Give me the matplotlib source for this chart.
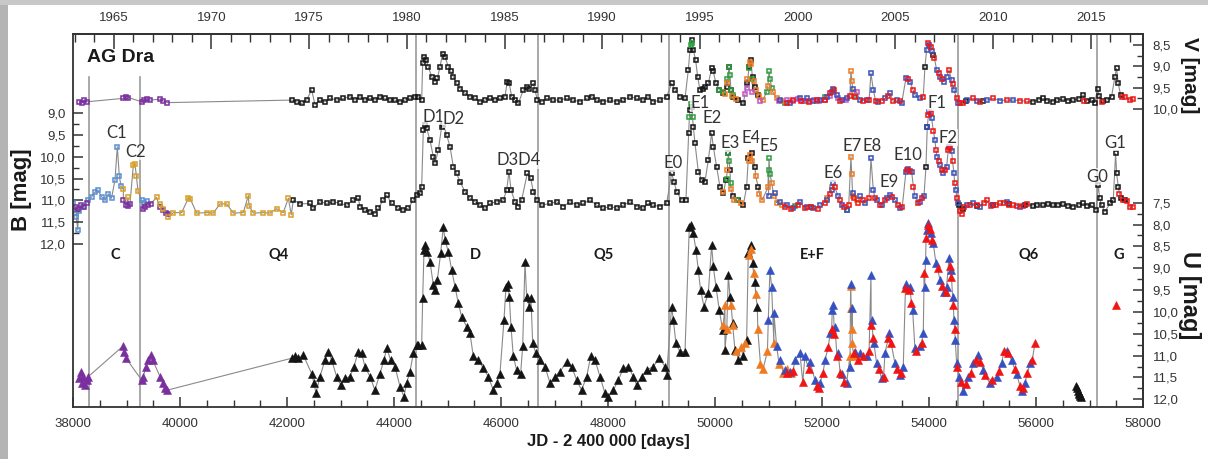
import matplotlib.pyplot as plt
from matplotlib.ticker import FixedLocator, FuncFormatter
from matplotlib.patches import Rectangle
import matplotlib.transforms as mtransforms

plt.rcParams['font.family'] = ['Liberation Sans', 'DejaVu Sans']

# ---------------- V band (JD-2400000, mag) ----------------
v_purple = [(38118, 9.83), (38162, 9.87), (38206, 9.79), (38255, 9.83), (38941, 9.75), (38991, 9.71),
            (39034, 9.73), (39283, 9.83), (39327, 9.79), (39377, 9.77), (39439, 9.79), (39626, 9.77),
            (39688, 9.81), (39751, 9.85)]
v_black = [(42087, 9.79), (42180, 9.83), (42274, 9.87), (42367, 9.79), (42461, 9.55), (42523, 9.90),
           (42617, 9.79), (42710, 9.83), (42803, 9.75), (42928, 9.79), (43052, 9.75), (43177, 9.71),
           (43270, 9.79), (43364, 9.71), (43457, 9.79), (43551, 9.75), (43644, 9.79), (43738, 9.71),
           (43831, 9.75), (43925, 9.79), (44018, 9.79), (44112, 9.83), (44205, 9.79), (44298, 9.75),
           (44392, 9.71), (44455, 9.71), (44517, 9.79), (44536, 8.93), (44561, 8.77), (44598, 8.85),
           (44642, 9.01), (44704, 9.24), (44766, 9.36), (44810, 9.28), (44860, 9.01), (44909, 8.70),
           (44953, 8.77), (45015, 9.01), (45059, 9.12), (45109, 9.24), (45171, 9.40), (45233, 9.52),
           (45327, 9.63), (45420, 9.71), (45514, 9.75), (45607, 9.83), (45701, 9.79), (45794, 9.75),
           (45888, 9.79), (45981, 9.75), (46074, 9.71), (46118, 9.36), (46155, 9.40), (46199, 9.71),
           (46261, 9.79), (46324, 9.87), (46417, 9.55), (46479, 9.48), (46529, 9.52), (46604, 9.40),
           (46635, 9.55), (46679, 9.79), (46760, 9.83), (46853, 9.75), (46978, 9.79), (47102, 9.79),
           (47227, 9.75), (47352, 9.79), (47476, 9.83), (47601, 9.75), (47694, 9.71), (47788, 9.79),
           (47912, 9.83), (48037, 9.79), (48162, 9.83), (48286, 9.79), (48411, 9.71), (48535, 9.75),
           (48660, 9.79), (48753, 9.71), (48847, 9.83), (48971, 9.79), (49096, 9.71), (49191, 9.40),
           (49252, 9.55), (49345, 9.71), (49439, 9.75), (49501, 9.09), (49532, 8.62), (49563, 8.38),
           (49594, 8.62), (49638, 8.85), (49675, 9.24), (49719, 9.55), (49769, 9.52), (49812, 9.48),
           (49875, 9.40), (49937, 9.05), (49968, 9.12), (50018, 9.40), (50080, 9.55), (50155, 9.63),
           (50217, 9.48), (50261, 9.01), (50298, 9.55), (50342, 9.71), (50435, 9.79), (50529, 9.87),
           (50591, 9.40), (50635, 9.01), (50666, 8.85), (50703, 9.24), (50747, 9.48), (50809, 9.67),
           (53924, 9.01), (54080, 8.73), (54700, 9.80), (55000, 9.80), (55949, 9.83), (56050, 9.78),
           (56136, 9.75), (56200, 9.80), (56323, 9.83), (56400, 9.78), (56510, 9.77), (56600, 9.80),
           (56697, 9.79), (56800, 9.76), (56884, 9.67), (56950, 9.80), (57039, 9.79), (57100, 9.85),
           (57151, 9.52), (57180, 9.70), (57250, 9.82), (57320, 9.79), (57413, 9.71), (57475, 9.24),
           (57506, 9.05), (57538, 9.40), (57581, 9.67)]
v_green = [(49545, 8.50), (49570, 8.45), (50080, 9.55), (50155, 9.60), (50217, 9.30), (50261, 9.01),
           (50280, 9.20), (50298, 9.55), (50342, 9.68), (50640, 9.05), (50700, 9.30), (50965, 9.60),
           (51009, 9.12), (51030, 9.30), (51058, 9.50), (51300, 9.85), (51700, 9.80), (51900, 9.82),
           (52050, 9.72), (52620, 9.70)]
v_orange = [(50180, 9.65), (50230, 9.40), (50320, 9.70), (50400, 9.76), (50600, 9.30), (50650, 8.90),
            (50680, 8.95), (50720, 9.35), (50760, 9.55), (50830, 9.70), (50900, 9.78), (50990, 9.45),
            (51080, 9.60), (51150, 9.75), (51250, 9.80), (52541, 9.12), (52560, 9.35), (52600, 9.60)]
v_magenta = [(50560, 9.65), (50600, 9.50), (50700, 9.60), (50850, 9.80), (51200, 9.82), (51350, 9.78),
             (51450, 9.80), (51550, 9.77), (51650, 9.82), (51750, 9.80), (51850, 9.78), (51950, 9.80),
             (52050, 9.78), (52150, 9.70), (52300, 9.75), (52450, 9.78), (52650, 9.60)]
v_blue = [(51214, 9.79), (51400, 9.85), (51588, 9.75), (51713, 9.74), (51837, 9.81), (51962, 9.78),
          (52086, 9.71), (52180, 9.59), (52211, 9.52), (52273, 9.67), (52367, 9.79), (52460, 9.75),
          (52572, 9.52), (52709, 9.79), (52834, 9.79), (52915, 9.16), (52959, 9.55), (53052, 9.83),
          (53177, 9.75), (53270, 9.63), (53395, 9.79), (53488, 9.87), (53569, 9.28), (53644, 9.36),
          (53737, 9.67), (53831, 9.75), (53955, 8.62), (54000, 8.50), (54060, 8.65), (54142, 9.08),
          (54205, 9.24), (54279, 9.36), (54329, 9.24), (54423, 9.32), (54466, 9.55), (54550, 9.85),
          (54703, 9.79), (54900, 9.81), (55077, 9.79), (55326, 9.80), (55575, 9.79)]
v_red = [(51339, 9.87), (51463, 9.79), (51600, 9.80), (51750, 9.83), (51900, 9.79), (52050, 9.78),
         (52150, 9.62), (52230, 9.55), (52330, 9.80), (52520, 9.70), (52616, 9.71), (52760, 9.80),
         (52880, 9.78), (53000, 9.80), (53120, 9.80), (53230, 9.70), (53330, 9.82), (53450, 9.80),
         (53600, 9.30), (53700, 9.55), (53893, 9.71), (53987, 8.46), (54030, 8.54), (54100, 8.80),
         (54180, 9.15), (54250, 9.30), (54373, 9.08), (54440, 9.42), (54516, 9.75), (54578, 9.87),
         (54630, 9.85), (54828, 9.75), (54952, 9.83), (55201, 9.75), (55451, 9.79), (55700, 9.80),
         (55824, 9.82), (56900, 9.80), (57226, 9.83), (57600, 9.72), (57662, 9.71), (57756, 9.79),
         (57818, 9.77)]

# ---------------- B band ----------------
b_lightblue = [(38006, 11.07), (38030, 11.29), (38060, 11.37), (38090, 11.68), (38120, 11.25),
               (38180, 11.15), (38286, 10.98), (38350, 10.92), (38411, 10.81), (38470, 10.77),
               (38536, 10.92), (38600, 11.00), (38660, 10.85), (38720, 10.95), (38785, 10.53),
               (38828, 9.77), (38866, 10.45), (38900, 10.68), (39283, 11.00), (39330, 11.05),
               (39380, 11.02)]
b_purple = [(38060, 11.15), (38100, 11.20), (38150, 11.10), (38200, 11.15), (38260, 11.05),
            (38941, 11.00), (38990, 11.10), (39030, 11.12), (39065, 11.08), (39300, 11.20),
            (39350, 11.15), (39400, 11.10), (39450, 11.08), (39620, 11.15), (39680, 11.22),
            (39740, 11.28), (39780, 11.30)]
b_gold = [(38941, 10.74), (39028, 10.93), (39128, 10.19), (39159, 10.17), (39185, 10.45),
          (39216, 10.79), (39564, 10.93), (39626, 11.08), (39690, 11.19), (39782, 11.38),
          (39875, 11.28), (40031, 11.28), (40155, 10.95), (40190, 10.96), (40311, 11.29),
          (40498, 11.28), (40623, 11.29), (40747, 11.08), (40872, 11.08), (40996, 11.29),
          (41183, 11.28), (41277, 10.89), (41290, 11.12), (41370, 11.29), (41557, 11.28),
          (41682, 11.29), (41807, 11.19), (41931, 11.28), (42025, 10.95), (42080, 11.33)]
b_black = [(42118, 10.99), (42243, 11.08), (42430, 11.07), (42492, 11.18), (42617, 11.03),
           (42741, 11.07), (42866, 11.03), (42990, 11.07), (43115, 11.11), (43239, 10.99),
           (43333, 10.95), (43364, 11.14), (43457, 11.22), (43551, 11.26), (43644, 11.30),
           (43707, 11.18), (43800, 10.99), (43863, 10.88), (43956, 11.07), (44080, 11.18),
           (44174, 11.22), (44267, 11.18), (44361, 10.99), (44423, 10.88), (44486, 10.84),
           (44517, 10.69), (44548, 9.39), (44579, 9.27), (44610, 9.35), (44673, 9.62), (44735, 10.00),
           (44766, 10.15), (44828, 9.85), (44891, 9.31), (44922, 9.27), (44984, 9.50), (45047, 9.77),
           (45109, 10.23), (45171, 10.38), (45233, 10.57), (45327, 10.80), (45420, 10.95),
           (45514, 11.03), (45607, 11.11), (45701, 11.18), (45794, 11.07), (45919, 11.03),
           (46043, 10.99), (46106, 10.76), (46149, 10.34), (46187, 10.76), (46261, 11.03),
           (46324, 11.14), (46386, 10.99), (46492, 10.38), (46554, 10.49), (46604, 10.80),
           (46666, 10.99), (46760, 11.11), (46916, 11.07), (47040, 11.03), (47165, 11.14),
           (47289, 11.03), (47414, 11.11), (47539, 11.07), (47663, 10.99), (47788, 11.11),
           (47912, 11.18), (48037, 11.14), (48162, 11.18), (48286, 11.11), (48411, 11.03),
           (48535, 11.14), (48660, 11.18), (48753, 11.07), (48847, 11.11), (48971, 11.14),
           (49096, 11.07), (49189, 10.38), (49233, 10.57), (49283, 10.80), (49376, 10.99),
           (49457, 10.99), (49507, 9.46), (49532, 8.93), (49563, 8.85), (49594, 9.31), (49626, 9.69),
           (49688, 10.34), (49750, 10.53), (49812, 10.57), (49875, 10.08), (49937, 9.46),
           (49968, 9.77), (50031, 10.23), (50093, 10.69), (50155, 10.84), (50205, 10.53),
           (50249, 9.92), (50280, 10.30), (50342, 10.91), (50435, 10.99), (50529, 11.11),
           (50591, 10.69), (50622, 10.04), (50685, 9.92), (50747, 10.23), (50809, 10.69),
           (53943, 10.23), (53968, 9.31), (54560, 11.10), (54640, 11.20), (54900, 11.12),
           (55200, 11.10), (55500, 11.08), (55800, 11.10), (55949, 11.13), (56020, 11.10),
           (56136, 11.11), (56220, 11.08), (56323, 11.11), (56420, 11.10), (56510, 11.08),
           (56600, 11.12), (56697, 11.14), (56800, 11.10), (56884, 11.07), (56960, 11.12),
           (57039, 11.11), (57120, 11.22), (57164, 10.65), (57190, 10.95), (57226, 11.11),
           (57288, 11.26), (57382, 11.07), (57444, 10.99), (57488, 9.92), (57507, 10.38),
           (57538, 10.69), (57581, 10.95), (57662, 10.99)]
b_green = [(49520, 9.10), (49545, 8.80), (49580, 9.10), (50215, 10.50), (50249, 9.92), (50265, 10.10),
           (50290, 10.60), (50420, 11.00), (51000, 10.30), (51008, 10.04), (51030, 10.40),
           (51500, 11.12), (51800, 11.15), (52460, 11.22)]
b_orange = [(50150, 10.80), (50230, 10.30), (50300, 10.75), (50360, 11.00), (50480, 11.05),
            (50630, 10.10), (50660, 9.95), (50700, 10.10), (50760, 10.45), (50830, 10.85),
            (50880, 11.00), (50990, 10.70), (51060, 10.60), (51100, 10.90), (51150, 11.05),
            (51250, 11.10), (52100, 10.95), (52190, 10.70), (52541, 10.00), (52555, 10.40),
            (52580, 10.90), (52650, 11.00)]
b_blue = [(51000, 10.90), (51121, 10.84), (51214, 11.03), (51339, 11.11), (51463, 11.18),
          (51588, 11.03), (51713, 11.14), (51837, 11.18), (51962, 11.11), (52086, 10.99),
          (52180, 10.76), (52211, 10.61), (52304, 10.91), (52367, 11.11), (52460, 11.22),
          (52572, 10.84), (52709, 10.91), (52803, 11.07), (52915, 10.04), (52959, 10.76),
          (53021, 10.99), (53114, 11.11), (53208, 10.95), (53270, 10.88), (53364, 10.99),
          (53457, 11.18), (53569, 10.34), (53613, 10.27), (53675, 10.34), (53737, 10.91),
          (53831, 11.03), (53906, 10.91), (53968, 9.31), (54005, 8.97), (54049, 9.12),
          (54111, 9.62), (54155, 10.00), (54205, 10.19), (54267, 10.38), (54329, 10.23),
          (54379, 9.77), (54423, 9.88), (54466, 10.38), (54504, 10.76), (54547, 11.07),
          (54703, 11.11), (54828, 11.07), (54952, 11.14), (55201, 11.11), (55451, 11.03),
          (55700, 11.14)]
b_red = [(51300, 11.15), (51420, 11.20), (51550, 11.10), (51680, 11.18), (51800, 11.14),
         (51920, 11.20), (52050, 11.05), (52150, 10.85), (52240, 10.70), (52330, 11.00),
         (52420, 11.15), (52500, 11.10), (52600, 10.95), (52680, 11.05), (52760, 10.98),
         (52880, 10.95), (52990, 10.95), (53080, 11.10), (53180, 11.00), (53300, 10.92),
         (53420, 11.10), (53500, 11.15), (53590, 10.30), (53650, 10.32), (53710, 10.70),
         (53790, 11.05), (53870, 10.95), (53990, 9.05), (54030, 9.00), (54080, 9.40),
         (54130, 9.85), (54180, 10.10), (54240, 10.30), (54300, 10.30), (54360, 9.85),
         (54400, 9.80), (54440, 10.10), (54480, 10.60), (54520, 10.95), (54580, 11.25),
         (54610, 11.30), (54660, 11.15), (54760, 11.10), (54890, 11.10), (55020, 11.05),
         (55077, 10.99), (55150, 11.12), (55260, 11.10), (55326, 11.07), (55400, 11.05),
         (55500, 11.10), (55575, 11.11), (55650, 11.12), (55760, 11.12), (55824, 11.08),
         (57560, 10.85), (57620, 10.98), (57700, 11.02), (57756, 11.16), (57818, 11.14)]

# ---------------- U band ----------------
u_purple = [(38118, 11.52), (38143, 11.37), (38168, 11.63), (38193, 11.48), (38224, 11.67),
            (38255, 11.56), (38286, 11.48), (38928, 10.79), (38953, 10.91), (38991, 11.06),
            (39283, 11.56), (39314, 11.48), (39364, 11.25), (39408, 11.10), (39452, 10.99),
            (39489, 11.10), (39626, 11.48), (39676, 11.63), (39719, 11.75), (39763, 11.79)]
u_black = [(42087, 11.06), (42149, 11.02), (42211, 11.06), (42305, 10.99), (42460, 11.41),
           (42504, 11.63), (42542, 11.86), (42617, 11.48), (42710, 11.10), (42772, 10.91),
           (42834, 11.10), (42928, 11.48), (43003, 11.67), (43084, 11.52), (43177, 11.48),
           (43252, 11.25), (43333, 10.91), (43395, 10.95), (43457, 11.25), (43551, 11.48),
           (43644, 11.79), (43738, 11.41), (43813, 11.10), (43863, 10.83), (43937, 11.10),
           (44018, 11.25), (44112, 11.71), (44186, 11.94), (44236, 11.63), (44298, 11.37),
           (44361, 10.95), (44423, 10.76), (44455, 10.76), (44517, 10.76), (44536, 9.69),
           (44561, 8.58), (44585, 8.47), (44623, 8.62), (44673, 8.85), (44735, 9.38), (44766, 9.50),
           (44810, 9.27), (44872, 8.66), (44922, 8.05), (44953, 8.35), (45015, 8.62), (45078, 9.04),
           (45140, 9.42), (45202, 9.80), (45265, 10.11), (45358, 10.34), (45420, 10.49),
           (45483, 11.02), (45576, 11.10), (45670, 11.29), (45763, 11.48), (45856, 11.79),
           (45919, 11.63), (45981, 11.41), (46056, 10.18), (46093, 9.42), (46124, 9.35),
           (46155, 9.65), (46187, 10.34), (46230, 11.02), (46293, 11.33), (46367, 11.41),
           (46405, 10.79), (46448, 8.85), (46479, 9.65), (46529, 9.88), (46560, 9.69),
           (46592, 10.72), (46654, 10.95), (46729, 11.10), (46822, 11.25), (46916, 11.63),
           (47009, 11.48), (47102, 11.37), (47227, 11.14), (47320, 11.25), (47414, 11.56),
           (47507, 11.79), (47601, 11.48), (47676, 11.02), (47757, 11.10), (47850, 11.48),
           (47943, 11.86), (48006, 11.94), (48099, 11.79), (48193, 11.56), (48286, 11.29),
           (48380, 11.25), (48473, 11.48), (48535, 11.67), (48629, 11.48), (48722, 11.33),
           (48847, 11.25), (48959, 11.06), (49065, 11.25), (49096, 11.44), (49189, 9.88),
           (49221, 10.18), (49270, 10.72), (49345, 10.91), (49439, 10.91), (49520, 8.05),
           (49551, 8.01), (49594, 8.20), (49644, 8.58), (49688, 9.04), (49731, 9.50), (49794, 9.88),
           (49875, 9.57), (49937, 8.47), (49968, 8.96), (50018, 9.42), (50080, 9.96), (50143, 10.41),
           (50186, 10.87), (50249, 9.15), (50280, 9.65), (50330, 10.26), (50373, 10.87),
           (50435, 11.10), (50529, 11.02), (50591, 10.64), (50622, 8.66), (50666, 8.47),
           (50703, 8.89), (50747, 9.31), (50791, 9.88)]
u_black_2014 = [(56750, 11.70), (56770, 11.75), (56790, 11.80), (56800, 11.85), (56810, 11.88),
                (56820, 11.90), (56830, 11.92), (56850, 11.94)]
u_orange = [(50155, 10.30), (50186, 9.84), (50220, 10.40), (50300, 9.84), (50330, 10.30),
            (50400, 10.90), (50480, 10.80), (50560, 10.72), (50640, 8.70), (50680, 8.55),
            (50720, 9.10), (50760, 9.60), (50800, 10.40), (50850, 11.20), (50900, 11.30),
            (50980, 10.90), (51100, 10.70), (51200, 11.20), (51280, 11.40), (51350, 11.30),
            (51420, 11.40), (52523, 11.00), (52535, 9.40), (52545, 9.90), (52555, 10.40),
            (52565, 10.70), (52590, 11.00)]
u_blue = [(50996, 10.18), (51027, 9.04), (51058, 9.42), (51102, 10.03), (51152, 10.79),
          (51214, 11.10), (51308, 11.33), (51401, 11.37), (51495, 11.10), (51588, 10.95),
          (51681, 11.02), (51775, 11.14), (51868, 11.56), (51962, 11.63), (52055, 11.10),
          (52149, 10.49), (52192, 9.96), (52211, 9.84), (52242, 10.34), (52304, 10.95),
          (52367, 11.41), (52460, 11.63), (52523, 11.25), (52535, 9.35), (52560, 9.90),
          (52616, 10.91), (52709, 10.95), (52834, 11.02), (52915, 9.15), (52940, 10.18),
          (52971, 10.72), (53021, 11.18), (53114, 11.52), (53177, 10.95), (53258, 10.49),
          (53364, 11.18), (53457, 11.44), (53519, 11.25), (53569, 9.35), (53644, 9.42),
          (53694, 9.96), (53737, 10.83), (53831, 10.79), (53893, 10.49), (53918, 9.42),
          (53937, 8.81), (53955, 8.12), (53987, 7.97), (54030, 8.20), (54080, 8.43), (54130, 8.89),
          (54205, 9.27), (54279, 9.54), (54329, 9.42), (54373, 8.77), (54404, 9.04), (54441, 9.65),
          (54466, 10.18), (54491, 10.64), (54516, 11.18), (54566, 11.48), (54641, 11.80),
          (54734, 11.48), (54828, 11.18), (54921, 10.99), (55015, 11.33), (55139, 11.63),
          (55264, 11.48), (55357, 11.18), (55451, 10.90), (55544, 11.10), (55638, 11.41),
          (55731, 11.82), (55793, 11.63), (55887, 11.18)]
u_red = [(51340, 11.40), (51460, 11.35), (51640, 11.60), (51750, 11.30), (51900, 11.70),
         (51950, 11.75), (52020, 11.40), (52120, 10.80), (52180, 10.40), (52230, 10.50),
         (52280, 11.00), (52340, 11.40), (52420, 11.60), (52600, 10.95), (52680, 11.10),
         (52760, 11.00), (52880, 10.90), (52920, 10.30), (52950, 10.60), (53060, 11.30),
         (53150, 11.50), (53240, 10.60), (53290, 10.70), (53400, 11.30), (53480, 11.40),
         (53560, 9.45), (53620, 9.50), (53670, 9.80), (53760, 10.90), (53860, 10.70),
         (53910, 9.10), (53945, 8.30), (53990, 8.00), (54010, 8.10), (54060, 8.35), (54160, 9.00),
         (54240, 9.40), (54310, 9.55), (54390, 8.95), (54420, 9.20), (54455, 9.85), (54480, 10.40),
         (54530, 11.25), (54600, 11.60), (54690, 11.65), (54780, 11.40), (54880, 11.10),
         (54960, 11.15), (55050, 11.45), (55180, 11.55), (55300, 11.35), (55400, 10.90),
         (55480, 10.95), (55600, 11.30), (55700, 11.70), (55760, 11.75), (55840, 11.40),
         (55930, 11.10), (55980, 10.72)]
u_red_2016 = [(57494, 9.84)]

# activity stages and outburst names
stage_names = ['C', 'Q4', 'D', 'Q5', 'E+F', 'Q6', 'G']
stage_mid_jd = [38785, 41850, 45514, 47925, 51827, 55868, 57551]
stage_bounds_jd = [38305, 39252, 44411, 46697, 49145, 54547, 57145]
outbursts = [('C1', 38817, 9.46), ('C2', 39177, 9.89), ('D1', 44734, 9.08), ('D2', 45108, 9.14),
             ('D3D4', 46323, 10.08), ('E0', 49208, 10.15), ('E1', 49719, 8.78), ('E2', 49937, 9.12),
             ('E3', 50279, 9.69), ('E4', 50666, 9.56), ('E5', 51014, 9.75), ('E6', 52210, 10.38),
             ('E7', 52554, 9.75), ('E8', 52933, 9.75), ('E9', 53257, 10.57), ('E10', 53612, 9.96),
             ('F1', 54142, 8.76), ('F2', 54359, 9.56), ('G0', 57152, 10.46), ('G1', 57475, 9.68)]

BLACK = '#141414'
PURPLE = '#7a2f9e'
LBLUE = '#5b8fd2'
GOLD = '#d9a12a'
GREEN = '#2e9e3e'
ORANGE = '#f07a20'
MAGENTA = '#c452c4'
BLUE = '#3550c0'
RED = '#f01414'
EDGE = '#333333'

fig = plt.figure(figsize=(12.08, 4.59), dpi=100)
fig.patch.set_facecolor('white')
fig.patches.append(Rectangle((0, 0), 8 / 1208, 1, transform=fig.transFigure,
                             facecolor='#b4b4b4', edgecolor='none', zorder=-10))
fig.patches.append(Rectangle((0, 1 - 5 / 459), 1, 5 / 459, transform=fig.transFigure,
                             facecolor='#c8c8c8', edgecolor='none', zorder=-10))

ax = fig.add_axes([73 / 1208, 52 / 459, 1070 / 1208, 373 / 459])
axV = ax.twinx()
axU = ax.twinx()
for a in (ax, axV, axU):
    a.patch.set_visible(False)
    for s in a.spines.values():
        s.set_color(EDGE)
        s.set_linewidth(1.3)
for a in (axV, axU):
    for side in ('left', 'top', 'bottom'):
        a.spines[side].set_visible(False)

ax.set_xlim(38000, 58000)
ax.set_ylim(15.73, 7.19)
axV.set_ylim(16.98, 8.242)
axU.set_ylim(12.176, 3.64)


def draw_band(axis, series, marker, ms, hollow, loose=()):
    # joined series share one grey guide line; loose ones are markers only
    pts = sorted(p for s, _ in series for p in s)
    axis.plot([p[0] for p in pts], [p[1] for p in pts], color='#8a8a8a', lw=0.8, zorder=1)
    for s, col in list(series) + list(loose):
        x = [p[0] for p in s]
        y = [p[1] for p in s]
        if hollow:
            axis.plot(x, y, ls='none', marker=marker, ms=ms, mfc='none', mec=col, mew=1.1, zorder=2)
        else:
            axis.plot(x, y, ls='none', marker=marker, ms=ms, mfc=col, mec=col, mew=0.4, zorder=2)


draw_band(ax, [(b_black, BLACK), (b_lightblue, LBLUE), (b_purple, PURPLE), (b_gold, GOLD),
               (b_green, GREEN), (b_orange, ORANGE), (b_blue, BLUE), (b_red, RED)], 's', 3.4, True)
draw_band(axV, [(v_black, BLACK), (v_purple, PURPLE), (v_green, GREEN), (v_orange, ORANGE),
                (v_magenta, MAGENTA), (v_blue, BLUE), (v_red, RED)], 's', 3.4, True)
draw_band(axU, [(u_black, BLACK), (u_purple, PURPLE), (u_orange, ORANGE), (u_blue, BLUE),
                (u_red, RED)], '^', 6.0, False,
          loose=[(u_black_2014, BLACK), (u_red_2016, RED)])

# stage boundaries
for i, jd in enumerate(stage_bounds_jd):
    ax.axvline(jd, ymin=0, ymax=0.885 if i < 2 else 1, color='#9a9a9a', lw=1.2, zorder=0)

lab_tr = mtransforms.blended_transform_factory(ax.transData, ax.transAxes)
for name, jd in zip(stage_names, stage_mid_jd):
    ax.text(jd, 0.4075, name, transform=lab_tr, ha='center', va='center',
            fontsize=10.5, fontweight='bold', family=['Lato', 'DejaVu Sans'], color='#1a1a1a')
# outburst names sit on the topmost axes so they stay readable over the V points
for name, jd, mag in outbursts:
    axU.text(jd, mag, name, transform=ax.transData, ha='center', va='center', fontsize=12,
             family=['Lato', 'DejaVu Sans'], color='#333333', zorder=5,
             bbox=dict(facecolor='white', edgecolor='none', pad=0.3, alpha=0.75))

ax.text(0.0449, 0.9357, 'AG Dra', transform=ax.transAxes, ha='center', va='center',
        fontsize=14, fontweight='bold', color='#1a1a1a')

comma = FuncFormatter(lambda v, p: f'{v:.1f}'.replace('.', ','))

# left B axis
ax.yaxis.set_major_locator(FixedLocator([9.0, 9.5, 10.0, 10.5, 11.0, 11.5, 12.0]))
ax.yaxis.set_minor_locator(FixedLocator([9.25, 9.75, 10.25, 10.75, 11.25, 11.75]))
ax.yaxis.set_major_formatter(comma)
ax.tick_params(axis='y', which='both', direction='in', left=True, right=False,
               labelsize=9.5, labelcolor='#333333', color=EDGE, pad=5)
ax.tick_params(axis='y', which='major', length=7, width=1.1)
ax.tick_params(axis='y', which='minor', length=4, width=1.0)

# right V and U axes
axV.yaxis.set_major_locator(FixedLocator([8.5, 9.0, 9.5, 10.0]))
axV.yaxis.set_minor_locator(FixedLocator([8.75, 9.25, 9.75]))
axU.yaxis.set_major_locator(FixedLocator([7.5, 8.0, 8.5, 9.0, 9.5, 10.0, 10.5, 11.0, 11.5, 12.0]))
axU.yaxis.set_minor_locator(FixedLocator([7.75, 8.25, 8.75, 9.25, 9.75, 10.25, 10.75, 11.25, 11.75]))
for a in (axV, axU):
    a.yaxis.set_major_formatter(comma)
    a.tick_params(axis='y', which='both', direction='in', labelsize=9.5,
                  labelcolor='#333333', color=EDGE, pad=7)
    a.tick_params(axis='y', which='major', length=7, width=1.1)
    a.tick_params(axis='y', which='minor', length=4, width=1.0)

# bottom JD axis
ax.xaxis.set_major_locator(FixedLocator(range(38000, 58001, 2000)))
ax.xaxis.set_minor_locator(FixedLocator(range(38500, 58000, 500)))
ax.tick_params(axis='x', which='both', direction='in', top=False, labelsize=9.5,
               labelcolor='#333333', color=EDGE, pad=8)
ax.tick_params(axis='x', which='major', length=7, width=1.1)
ax.tick_params(axis='x', which='minor', length=5, width=1.0)


# calendar years on top
def jd_to_year(jd):
    return 2000.0 + (jd - 51544.5) / 365.25


def year_to_jd(yr):
    return 51544.5 + (yr - 2000.0) * 365.25


top = ax.secondary_xaxis('top', functions=(jd_to_year, year_to_jd))
top.xaxis.set_major_locator(FixedLocator(range(1965, 2016, 5)))
top.xaxis.set_minor_locator(FixedLocator(range(1963, 2018)))
top.tick_params(which='both', direction='in', labelsize=9.5, labelcolor='#333333',
                color=EDGE, pad=7)
top.tick_params(which='major', length=11, width=1.1)
top.tick_params(which='minor', length=6, width=1.0)
top.spines['top'].set_color(EDGE)
top.spines['top'].set_linewidth(1.3)

ax.set_xlabel('JD - 2 400 000 [days]', fontsize=12, fontweight='bold', color='#1a1a1a', labelpad=3)
fig.text(22 / 1208, 1 - 190 / 459, 'B [mag]', rotation=90, ha='center', va='center',
         fontsize=16, fontweight='bold', color='#1a1a1a')
fig.text(1190 / 1208, 1 - 75 / 459, 'V [mag]', rotation=270, ha='center', va='center',
         fontsize=15, fontweight='bold', color='#1a1a1a')
fig.text(1190 / 1208, 1 - 295 / 459, 'U [mag]', rotation=270, ha='center', va='center',
         fontsize=17, fontweight='bold', color='#1a1a1a')

fig.savefig('out.png', dpi=100)
